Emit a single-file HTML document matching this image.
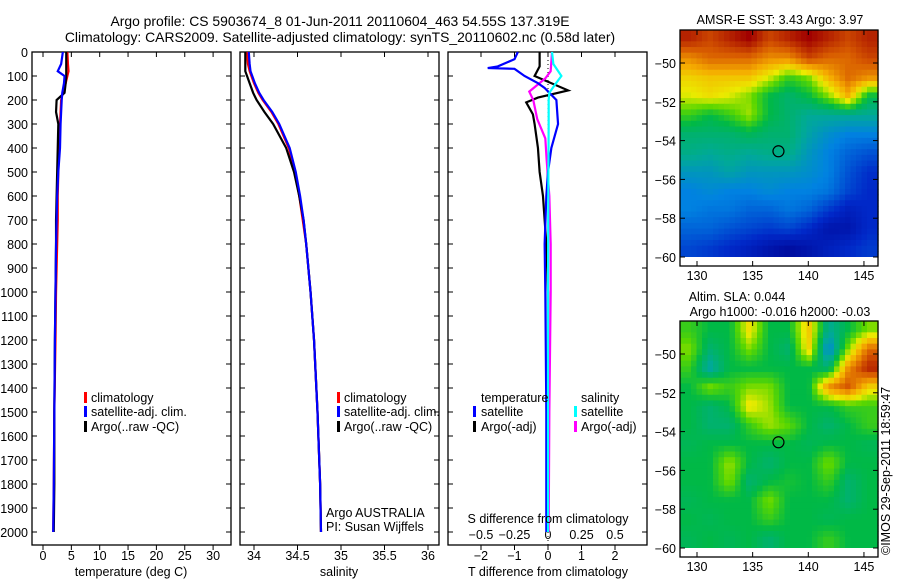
<!DOCTYPE html>
<html><head><meta charset="utf-8">
<style>
html,body{margin:0;padding:0;background:#fff;}
svg{display:block;font-family:"Liberation Sans",sans-serif;}
text{font-size:12.5px;fill:#000;}
</style></head>
<body>
<svg id="chart" width="900" height="580" viewBox="0 0 900 580" xmlns="http://www.w3.org/2000/svg">
<text x="340" y="26" text-anchor="middle" style="font-size:13.9px">Argo profile: CS 5903674_8 01-Jun-2011 20110604_463 54.55S 137.319E</text>
<text x="340" y="42" text-anchor="middle" style="font-size:13.9px">Climatology: CARS2009. Satellite-adjusted climatology: synTS_20110602.nc (0.58d later)</text>
<g id="layer"></g>
</svg>
<script>
// ---- profile data ----
const depths = [0,50,80,100,130,170,200,250,300,400,500,600,700,800,1000,1200,1500,1800,2000];
const tempClim = [4.3,4.4,4.5,4.3,4.0,3.5,3.2,3.1,3.0,2.8,2.7,2.6,2.6,2.5,2.3,2.2,2.0,1.9,1.8];
const tempSat  = [3.5,3.2,2.6,3.8,3.7,3.4,3.3,3.2,3.1,3.0,2.7,2.5,2.4,2.3,2.2,2.1,2.0,1.9,1.8];
const tempArgo = [4.1,4.1,4.1,4.1,4.0,3.8,2.4,2.3,2.7,2.6,2.5,2.4,2.3,2.3,2.2,2.1,2.0,2.0,1.9];
const salClim = [33.92,33.93,33.95,33.97,34.0,34.05,34.1,34.2,34.28,34.4,34.47,34.52,34.56,34.6,34.65,34.69,34.73,34.76,34.77];
const salSat  = [33.94,33.95,33.96,33.98,34.01,34.06,34.11,34.21,34.29,34.41,34.48,34.53,34.57,34.6,34.65,34.69,34.73,34.76,34.77];
const salArgo = [33.9,33.9,33.9,33.92,33.95,33.99,34.03,34.12,34.22,34.37,34.46,34.52,34.57,34.6,34.65,34.69,34.73,34.76,34.77];
const dTsatDepths = [0,30,60,67,70,100,130,150,200,300,400,500,600,800,1000,1500,2000];
const dTsat = [-0.9,-1.0,-1.5,-1.8,-1.0,-0.7,-0.3,-0.1,0.25,0.3,0.1,0,-0.05,-0.1,-0.08,-0.05,-0.05];
const dTargoDepths = [0,60,100,160,190,210,260,300,400,500,600,800,1000,1500,2000];
const dTargo = [-0.25,-0.25,-0.4,0.6,-0.3,-0.65,-0.45,-0.4,-0.3,-0.25,-0.15,-0.05,0,0,0];
const dSsatDepths = [0,50,100,130,170,200,300,500,1000,2000];
const dSsat = [0.03,0.04,0.1,0.06,0.01,0.005,0.005,0.003,0,0];
const dSargoDepths = [0,80,110,165,200,280,360,450,600,800,1000,1500,2000];
const dSargo = [0.03,0.02,-0.02,-0.14,-0.11,-0.08,-0.02,-0.01,0.01,0.02,0.02,0.01,0.005];
const depthTicks = [0,100,200,300,400,500,600,700,800,900,1000,1100,1200,1300,1400,1500,1600,1700,1800,1900,2000];
const tTicks = [0,5,10,15,20,25,30];
const sTicks = [34,34.5,35,35.5,36];
const sTickLabels = ["34","34.5","35","35.5","36"];
const dTTicks = [-2,-1,0,1,2];
const dSTicks = [-0.5,-0.25,0,0.25,0.5];
const dSTickLabels = ["\u22120.5","\u22120.25","0","0.25","0.5"];
// ---- map data (0 = cold/low, 1 = warm/high), rows north->south ----
const sstGrid = [
[.95,.9,.95,1,.9,.95,1,.95,.9,.95],
[.8,.85,.85,.85,.8,.8,.9,.85,.85,.9],
[.7,.72,.72,.72,.65,.55,.6,.75,.85,.8],
[.65,.68,.65,.6,.5,.45,.5,.6,.75,.5],
[.55,.5,.55,.62,.5,.45,.4,.4,.4,.4],
[.45,.45,.45,.48,.45,.45,.38,.33,.3,.3],
[.42,.4,.42,.4,.42,.42,.35,.3,.25,.22],
[.35,.35,.38,.35,.35,.35,.33,.3,.22,.16],
[.3,.32,.3,.3,.32,.3,.3,.28,.2,.15],
[.3,.28,.28,.25,.25,.28,.25,.18,.12,.15],
[.25,.25,.22,.2,.18,.2,.15,.08,.08,.15],
[.2,.18,.15,.12,.08,.05,.08,.12,.15,.18]];
const slaGrid = [
[.55,.5,.5,.68,.5,.5,.72,.4,.5,.6],
[.6,.45,.5,.6,.5,.45,.7,.3,.6,.85],
[.55,.38,.5,.5,.5,.5,.5,.45,.8,.95],
[.5,.6,.55,.6,.6,.5,.5,.8,.88,.7],
[.5,.45,.5,.68,.62,.5,.5,.5,.55,.55],
[.5,.45,.45,.55,.62,.58,.5,.45,.5,.55],
[.48,.5,.5,.5,.5,.5,.48,.5,.5,.48],
[.5,.5,.62,.5,.45,.5,.5,.6,.5,.5],
[.5,.5,.6,.45,.5,.52,.5,.55,.45,.5],
[.48,.5,.5,.5,.6,.5,.5,.5,.45,.5],
[.5,.48,.5,.5,.55,.5,.5,.48,.5,.5],
[.48,.5,.48,.5,.45,.5,.5,.55,.5,.5]];
const latTicks = [-50,-52,-54,-56,-58,-60];
const lonTicks = [130,135,140,145];
const argoLon = 137.319, argoLat = -54.55;

const NS = "http://www.w3.org/2000/svg";
const layer = document.getElementById("layer");
function mk(tag, attrs, parent){const e=document.createElementNS(NS,tag);for(const k in attrs)e.setAttribute(k,attrs[k]);(parent||layer).appendChild(e);return e;}
const top0=52, bot=545;
const yD = d => top0 + d*0.24;
const xT = t => 43 + t*5.67;
const xS = s => 254 + (s-34)*87;
const xDT = v => 548 + v*33.5;
const xDS = v => 548 + v*134;

function panel(x0,name){
  const r=mk("rect",{x:x0,y:top0,width:199,height:bot-top0,fill:"none",stroke:"#000","stroke-width":1.3});
  
  
  depthTicks.forEach(d=>{
    mk("line",{x1:x0,x2:x0+5,y1:yD(d),y2:yD(d),stroke:"#000"});
    mk("line",{x1:x0+199,x2:x0+194,y1:yD(d),y2:yD(d),stroke:"#000"});
  });
}
function xticks(arr,fx,labels,ly,name){
  arr.forEach((v,i)=>{
    const x=fx(v);
    mk("line",{x1:x,x2:x,y1:bot,y2:bot+5,stroke:"#000"});
    mk("line",{x1:x,x2:x,y1:top0,y2:top0+5,stroke:"#000"});
    const t=mk("text",{x:x,y:ly,"text-anchor":"middle"});t.textContent=labels[i];
    
    
  });
}
function line(ds,vs,fx,color,name,w){
  const p=mk("polyline",{points:ds.map((d,i)=>fx(vs[i])+","+yD(d)).join(" "),fill:"none",stroke:color,"stroke-width":w||2.2,"stroke-linejoin":"miter"});
  
  
}
function txt(x,y,s,name,anchor){const t=mk("text",{x:x,y:y,"text-anchor":anchor||"start"});t.textContent=s;
  
  return t;}
function legBar(x,y,color){const r=mk("rect",{x:x,y:y-10,width:3,height:11,fill:color});
  
  }

// panel 1 temperature
panel(32,"temperature-panel");
depthTicks.forEach(d=>{txt(28,yD(d)+5,String(d),"depth-tick-label","end");});
xticks(tTicks,xT,tTicks.map(String),560,"temperature-tick-label");
line(depths,tempClim,xT,"#f00","temperature-climatology-line");
line(depths,tempArgo,xT,"#000","temperature-argo-line");
line(depths,tempSat,xT,"#00f","temperature-satellite-line");
txt(131,576,"temperature (deg C)","temperature-axis-title","middle");
legBar(84,402,"#f00");txt(91,402,"climatology","legend-climatology");
legBar(84,416,"#00f");txt(91,416,"satellite-adj. clim.","legend-satellite");
legBar(84,431,"#000");txt(91,431,"Argo(..raw -QC)","legend-argo");

// panel 2 salinity
panel(240,"salinity-panel");
xticks(sTicks,xS,sTickLabels,560,"salinity-tick-label");
line(depths,salClim,xS,"#f00","salinity-climatology-line");
line(depths,salArgo,xS,"#000","salinity-argo-line");
line(depths,salSat,xS,"#00f","salinity-satellite-line");
txt(339,576,"salinity","salinity-axis-title","middle");
legBar(337,402,"#f00");txt(344,402,"climatology","legend-climatology");
legBar(337,416,"#00f");txt(344,416,"satellite-adj. clim.","legend-satellite");
legBar(337,431,"#000");txt(344,431,"Argo(..raw -QC)","legend-argo");
txt(326,517,"Argo AUSTRALIA","argo-program-label");
txt(326,531,"PI: Susan Wijffels","pi-label");

// panel 3 differences
panel(448,"difference-panel");
xticks(dTTicks,xDT,dTTicks.map(v=>v<0?"\u2212"+(-v):String(v)),560,"t-diff-tick-label");
dSTicks.forEach((v,i)=>{txt(xDS(v),539,dSTickLabels[i],"s-diff-tick-label","middle");});
const z=mk("line",{x1:548,x2:548,y1:top0,y2:bot,stroke:"#000","stroke-dasharray":"1,3"});

line(dTargoDepths,dTargo,xDT,"#000","t-diff-argo-line");
line(dSargoDepths,dSargo,xDS,"#f0f","s-diff-argo-line");
line(dTsatDepths,dTsat,xDT,"#00f","t-diff-satellite-line");
line(dSsatDepths,dSsat,xDS,"#0ff","s-diff-satellite-line");
txt(548,523,"S difference from climatology","s-diff-axis-title","middle");
txt(548,576,"T difference from climatology","t-diff-axis-title","middle");
txt(481,402,"temperature","legend-temperature-header");
txt(581,402,"salinity","legend-salinity-header");
legBar(473,416,"#00f");txt(481,416,"satellite","legend-t-satellite");
legBar(473,431,"#000");txt(481,431,"Argo(-adj)","legend-t-argo");
legBar(574,416,"#0ff");txt(581,416,"satellite","legend-s-satellite");
legBar(574,431,"#f0f");txt(581,431,"Argo(-adj)","legend-s-argo");

// ---- maps ----
function cmap(v){
  const st=[[0,[0,0,140]],[0.15,[0,40,200]],[0.3,[0,130,225]],[0.4,[0,170,150]],[0.5,[0,185,70]],[0.58,[90,215,0]],[0.66,[235,235,0]],[0.76,[245,170,0]],[0.87,[215,90,0]],[1,[160,0,0]]];
  v=Math.max(0,Math.min(1,v));
  for(let i=1;i<st.length;i++){if(v<=st[i][0]){const a=st[i-1],b=st[i],f=(v-a[0])/(b[0]-a[0]);
    return "rgb("+a[1].map((c,k)=>Math.round(c+(b[1][k]-c)*f)).join(",")+")";}}
  return "rgb(160,0,0)";
}
function sample(grid,u,v){
  const R=grid.length,C=grid[0].length;
  u=Math.max(0,Math.min(C-1,u));v=Math.max(0,Math.min(R-1,v));
  const c0=Math.floor(u),r0=Math.floor(v),c1=Math.min(C-1,c0+1),r1=Math.min(R-1,r0+1),fu=u-c0,fv=v-r0;
  return grid[r0][c0]*(1-fu)*(1-fv)+grid[r0][c1]*fu*(1-fv)+grid[r1][c0]*(1-fu)*fv+grid[r1][c1]*fu*fv;
}
function map(grid,y0,name){
  const g=mk("g",{});
  
  
  const rows=grid.length,cols=grid[0].length,NX=36,NY=40,W=198,H=227;
  for(let j=0;j<NY;j++)for(let i=0;i<NX;i++){
    const u=((i+0.5)/NX)*cols-0.5, v=((j+0.5)/NY)*rows-0.5;
    mk("rect",{x:680+i*W/NX,y:y0+j*H/NY,width:W/NX+0.6,height:H/NY+0.6,fill:cmap(sample(grid,u,v))},g);
  }
  mk("rect",{x:680.6,y:y0+227,width:196.8,height:8.4,fill:"#fff"});
  mk("rect",{x:680,y:y0,width:198,height:236,fill:"none",stroke:"#000","stroke-width":1.3});
  const lonX=l=>697+(l-130)*11.13, latY=la=>y0+33+(-50-la)*19.4;
  lonTicks.forEach(l=>{const x=lonX(l);mk("line",{x1:x,x2:x,y1:y0+236,y2:y0+231,stroke:"#000"});mk("line",{x1:x,x2:x,y1:y0,y2:y0+5,stroke:"#000"});
    txt(x,y0+250,String(l),"longitude-tick-label","middle");});
  latTicks.forEach(la=>{const y=latY(la);mk("line",{x1:680,x2:685,y1:y,y2:y,stroke:"#000"});mk("line",{x1:878,x2:873,y1:y,y2:y,stroke:"#000"});
    txt(676,y+5,"\u2212"+(-la),"latitude-tick-label","end");});
  const c=mk("circle",{cx:lonX(argoLon),cy:latY(argoLat),r:5.5,fill:"none",stroke:"#000","stroke-width":1.2});
  
}
map(sstGrid,30,"sst-map");
map(slaGrid,321,"sla-map");
txt(780,24,"AMSR-E SST: 3.43 Argo: 3.97","sst-map-title","middle");
txt(737,301,"Altim. SLA: 0.044","sla-map-title","middle");
txt(780,316,"Argo h1000: -0.016 h2000: -0.03","sla-map-subtitle","middle");
const cr=txt(0,0,"\u00a9IMOS 29-Sep-2011 18:59:47","copyright-label","start");
cr.setAttribute("transform","translate(890,555) rotate(-90)");
</script>
</body></html>
